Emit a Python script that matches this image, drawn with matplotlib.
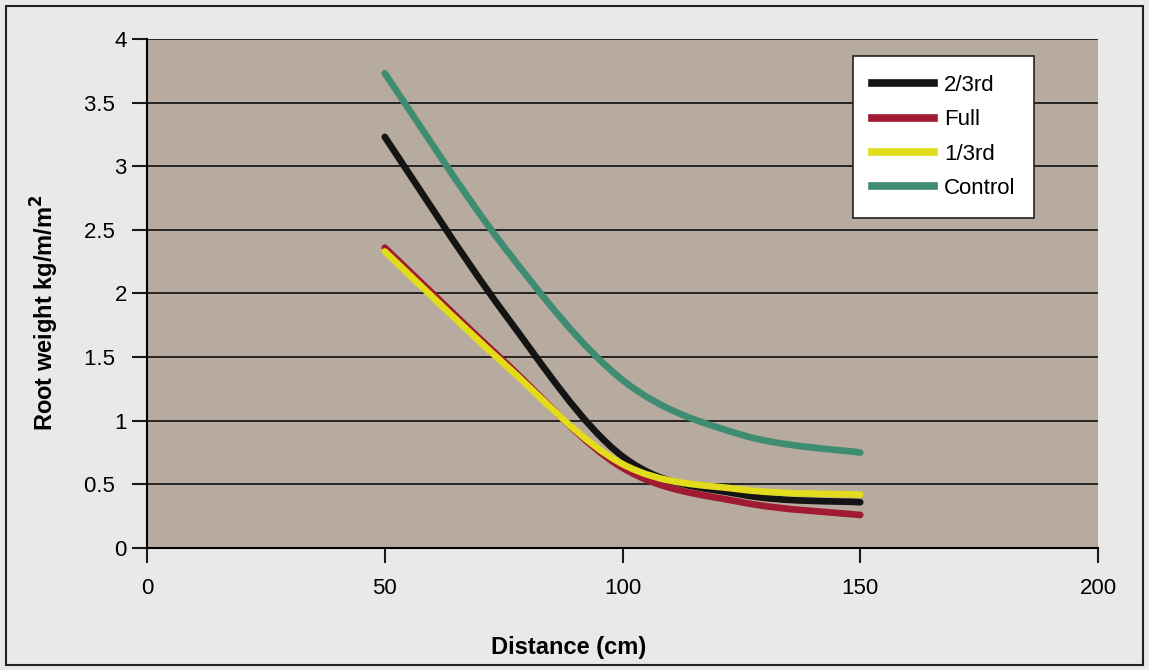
import numpy as np
import matplotlib.pyplot as plt
from matplotlib.path import Path
from matplotlib.patches import PathPatch
from matplotlib.lines import Line2D

plt.rcParams['font.family'] = ['Liberation Sans', 'DejaVu Sans']

# Дані
distance = [50, 75, 100, 125, 150]
two_third = [3.23, 1.85, 0.72, 0.42, 0.36]
full = [2.36, 1.47, 0.63, 0.36, 0.26]
one_third = [2.33, 1.45, 0.66, 0.46, 0.42]
control = [3.73, 2.37, 1.32, 0.89, 0.75]

names = ['2/3rd', 'Full', '1/3rd', 'Control']
series = [two_third, full, one_third, control]
colors = ['#141414', '#a01a32', '#e2dc1c', '#3e8c72']
# порядок малювання: контроль знизу, жовта зверху
draw_order = [3, 0, 1, 2]

y_ticks = [0, 0.5, 1, 1.5, 2, 2.5, 3, 3.5, 4]
# дробові підписи в оригіналі зсунуті лівіше
y_labels = ['0', '0.5  ', '1', '1.5  ', '2', '2.5  ', '3', '3.5  ', '4']


def smooth_path(xs, ys):
    # згладжена лінія як в Excel (кубічні криві Безьє)
    pts = np.column_stack([xs, ys]).astype(float)
    verts = [pts[0]]
    codes = [Path.MOVETO]
    n = len(pts)
    for i in range(n - 1):
        p0 = pts[max(i - 1, 0)]
        p1 = pts[i]
        p2 = pts[i + 1]
        p3 = pts[min(i + 2, n - 1)]
        c1 = p1 + (p2 - p0) / 6.0
        c2 = p2 - (p3 - p1) / 6.0
        verts += [c1, c2, p2]
        codes += [Path.CURVE4] * 3
    return Path(verts, codes)


fig = plt.figure(figsize=(11.49, 6.70), dpi=100, facecolor='#e9e9e8')
ax = fig.add_axes([0.128, 0.182, 0.8276, 0.760])
ax.set_facecolor('#b7aa9e')

for i in draw_order:
    patch = PathPatch(smooth_path(distance, series[i]), facecolor='none',
                      edgecolor=colors[i], lw=4.8, capstyle='round', zorder=3)
    ax.add_patch(patch)

ax.set_xlim(0, 200)
ax.set_ylim(0, 4)
ax.set_xticks([0, 50, 100, 150, 200])
ax.set_yticks(y_ticks)
ax.set_yticklabels(y_labels)
ax.grid(True, axis='y', color='#1a1a1a', lw=1.3)
ax.set_axisbelow(True)

for s in ['top', 'right']:
    ax.spines[s].set_visible(False)
ax.spines['left'].set_linewidth(1.5)
ax.spines['bottom'].set_linewidth(1.5)
ax.tick_params(axis='both', direction='out', labelsize=16, width=1.5,
               color='#1a1a1a')
ax.tick_params(axis='x', length=11, pad=10.5)
ax.tick_params(axis='y', length=11, pad=3.5)

ax.set_xlabel('Distance (cm)', fontsize=17, fontweight='bold')
ax.set_ylabel('Root weight kg/m/m$^\\mathbf{2}$', fontsize=17,
              fontweight='bold')
ax.xaxis.set_label_coords(0.443, -0.173)
ax.yaxis.set_label_coords(-0.090, 0.463)

handles = [Line2D([], [], color=colors[i], lw=5.5) for i in range(4)]
leg = ax.legend(handles, names, loc='upper left',
                bbox_to_anchor=(0.742, 0.966), fontsize=16, handlelength=2.8,
                handletextpad=0.45, frameon=True, fancybox=False,
                framealpha=1, edgecolor='#222222', borderpad=0.85,
                labelspacing=0.6, borderaxespad=0)
leg.get_frame().set_linewidth(1.2)

# рамка навколо всього рисунка
fig.patches.append(plt.Rectangle((0.005, 0.008), 0.99, 0.983,
                                 transform=fig.transFigure, fill=False,
                                 edgecolor='#222222', lw=1.5))

fig.savefig('out.png', dpi=100, facecolor=fig.get_facecolor())
